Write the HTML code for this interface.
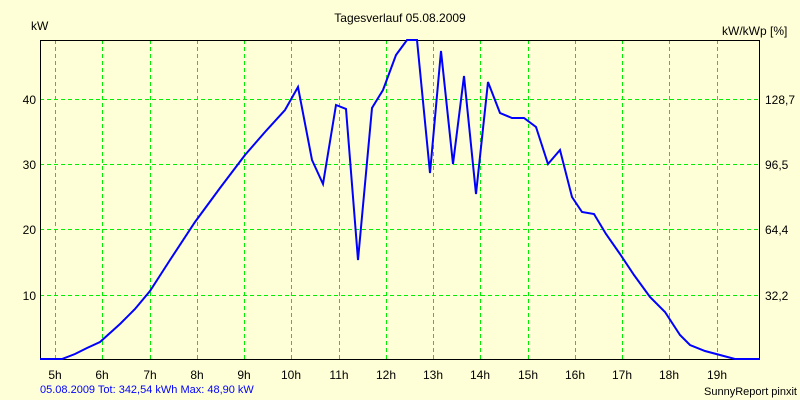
<!DOCTYPE html>
<html><head><style>body{margin:0;background:#ffffd7;}svg{display:block}</style></head><body>
<svg width="800" height="400" xmlns="http://www.w3.org/2000/svg" font-family="Liberation Sans, sans-serif" font-size="12">
<rect width="800" height="400" fill="#ffffd7"/>
<g stroke="#00ee00" stroke-dasharray="4,3" stroke-width="1">
<line x1="40" y1="99.5" x2="760" y2="99.5"/><line x1="40" y1="164.5" x2="760" y2="164.5"/>
<line x1="40" y1="229.5" x2="760" y2="229.5"/><line x1="40" y1="295.5" x2="760" y2="295.5"/>
<line x1="55.5" y1="40" x2="55.5" y2="359"/><line x1="102.5" y1="40" x2="102.5" y2="359"/>
<line x1="150.5" y1="40" x2="150.5" y2="359"/><line x1="197.5" y1="40" x2="197.5" y2="359"/>
<line x1="244.5" y1="40" x2="244.5" y2="359"/><line x1="291.5" y1="40" x2="291.5" y2="359"/>
<line x1="339.5" y1="40" x2="339.5" y2="359"/><line x1="386.5" y1="40" x2="386.5" y2="359"/>
<line x1="433.5" y1="40" x2="433.5" y2="359"/><line x1="480.5" y1="40" x2="480.5" y2="359"/>
<line x1="528.5" y1="40" x2="528.5" y2="359"/><line x1="575.5" y1="40" x2="575.5" y2="359"/>
<line x1="622.5" y1="40" x2="622.5" y2="359"/><line x1="669.5" y1="40" x2="669.5" y2="359"/>
<line x1="717.5" y1="40" x2="717.5" y2="359"/>
</g>
<rect x="40.5" y="40.5" width="719" height="319" fill="none" stroke="#000" stroke-width="1"/>
<polyline fill="none" stroke="#0000ff" stroke-width="2" points="40,359 62,359 75,354 87,348 100,342 120,324 135,309 150,291 170,260 195,222 220,188 245,155 265,132 285,110 298,87 312,160 323,184 336,105 346,109 358,260 372,108 383,90 396,55 407,40 417,40 430,173 441,51 453,164 464,76 476,194 488,82 500,113 512,118 524,118 536,127 548,164 560,150 572,197 582,212 594,214 606,234 620,254 634,275 650,297 665,312 680,335 690,345 705,351 720,355 735,359 760,359"/>
<g fill="#000">
<text x="400" y="22" text-anchor="middle">Tagesverlauf 05.08.2009</text>
<text x="31" y="30">kW</text>
<text x="722" y="35">kW/kWp [%]</text>
<g text-anchor="end"><text x="36" y="104">40</text><text x="36" y="169">30</text><text x="36" y="234">20</text><text x="36" y="300">10</text></g>
<g><text x="765" y="104">128,7</text><text x="765" y="169">96,5</text><text x="765" y="234">64,4</text><text x="765" y="300">32,2</text></g>
<g text-anchor="middle">
<text x="55" y="379">5h</text><text x="102" y="379">6h</text><text x="150" y="379">7h</text><text x="197" y="379">8h</text><text x="244" y="379">9h</text><text x="291" y="379">10h</text><text x="339" y="379">11h</text><text x="386" y="379">12h</text><text x="433" y="379">13h</text><text x="480" y="379">14h</text><text x="528" y="379">15h</text><text x="575" y="379">16h</text><text x="622" y="379">17h</text><text x="669" y="379">18h</text><text x="717" y="379">19h</text>
</g>
<text x="797" y="395" text-anchor="end" font-size="11">SunnyReport pinxit</text>
</g>
<text x="40" y="393" fill="#0000ff" font-size="11">05.08.2009 Tot: 342,54 kWh Max: 48,90 kW</text>
</svg>
</body></html>
